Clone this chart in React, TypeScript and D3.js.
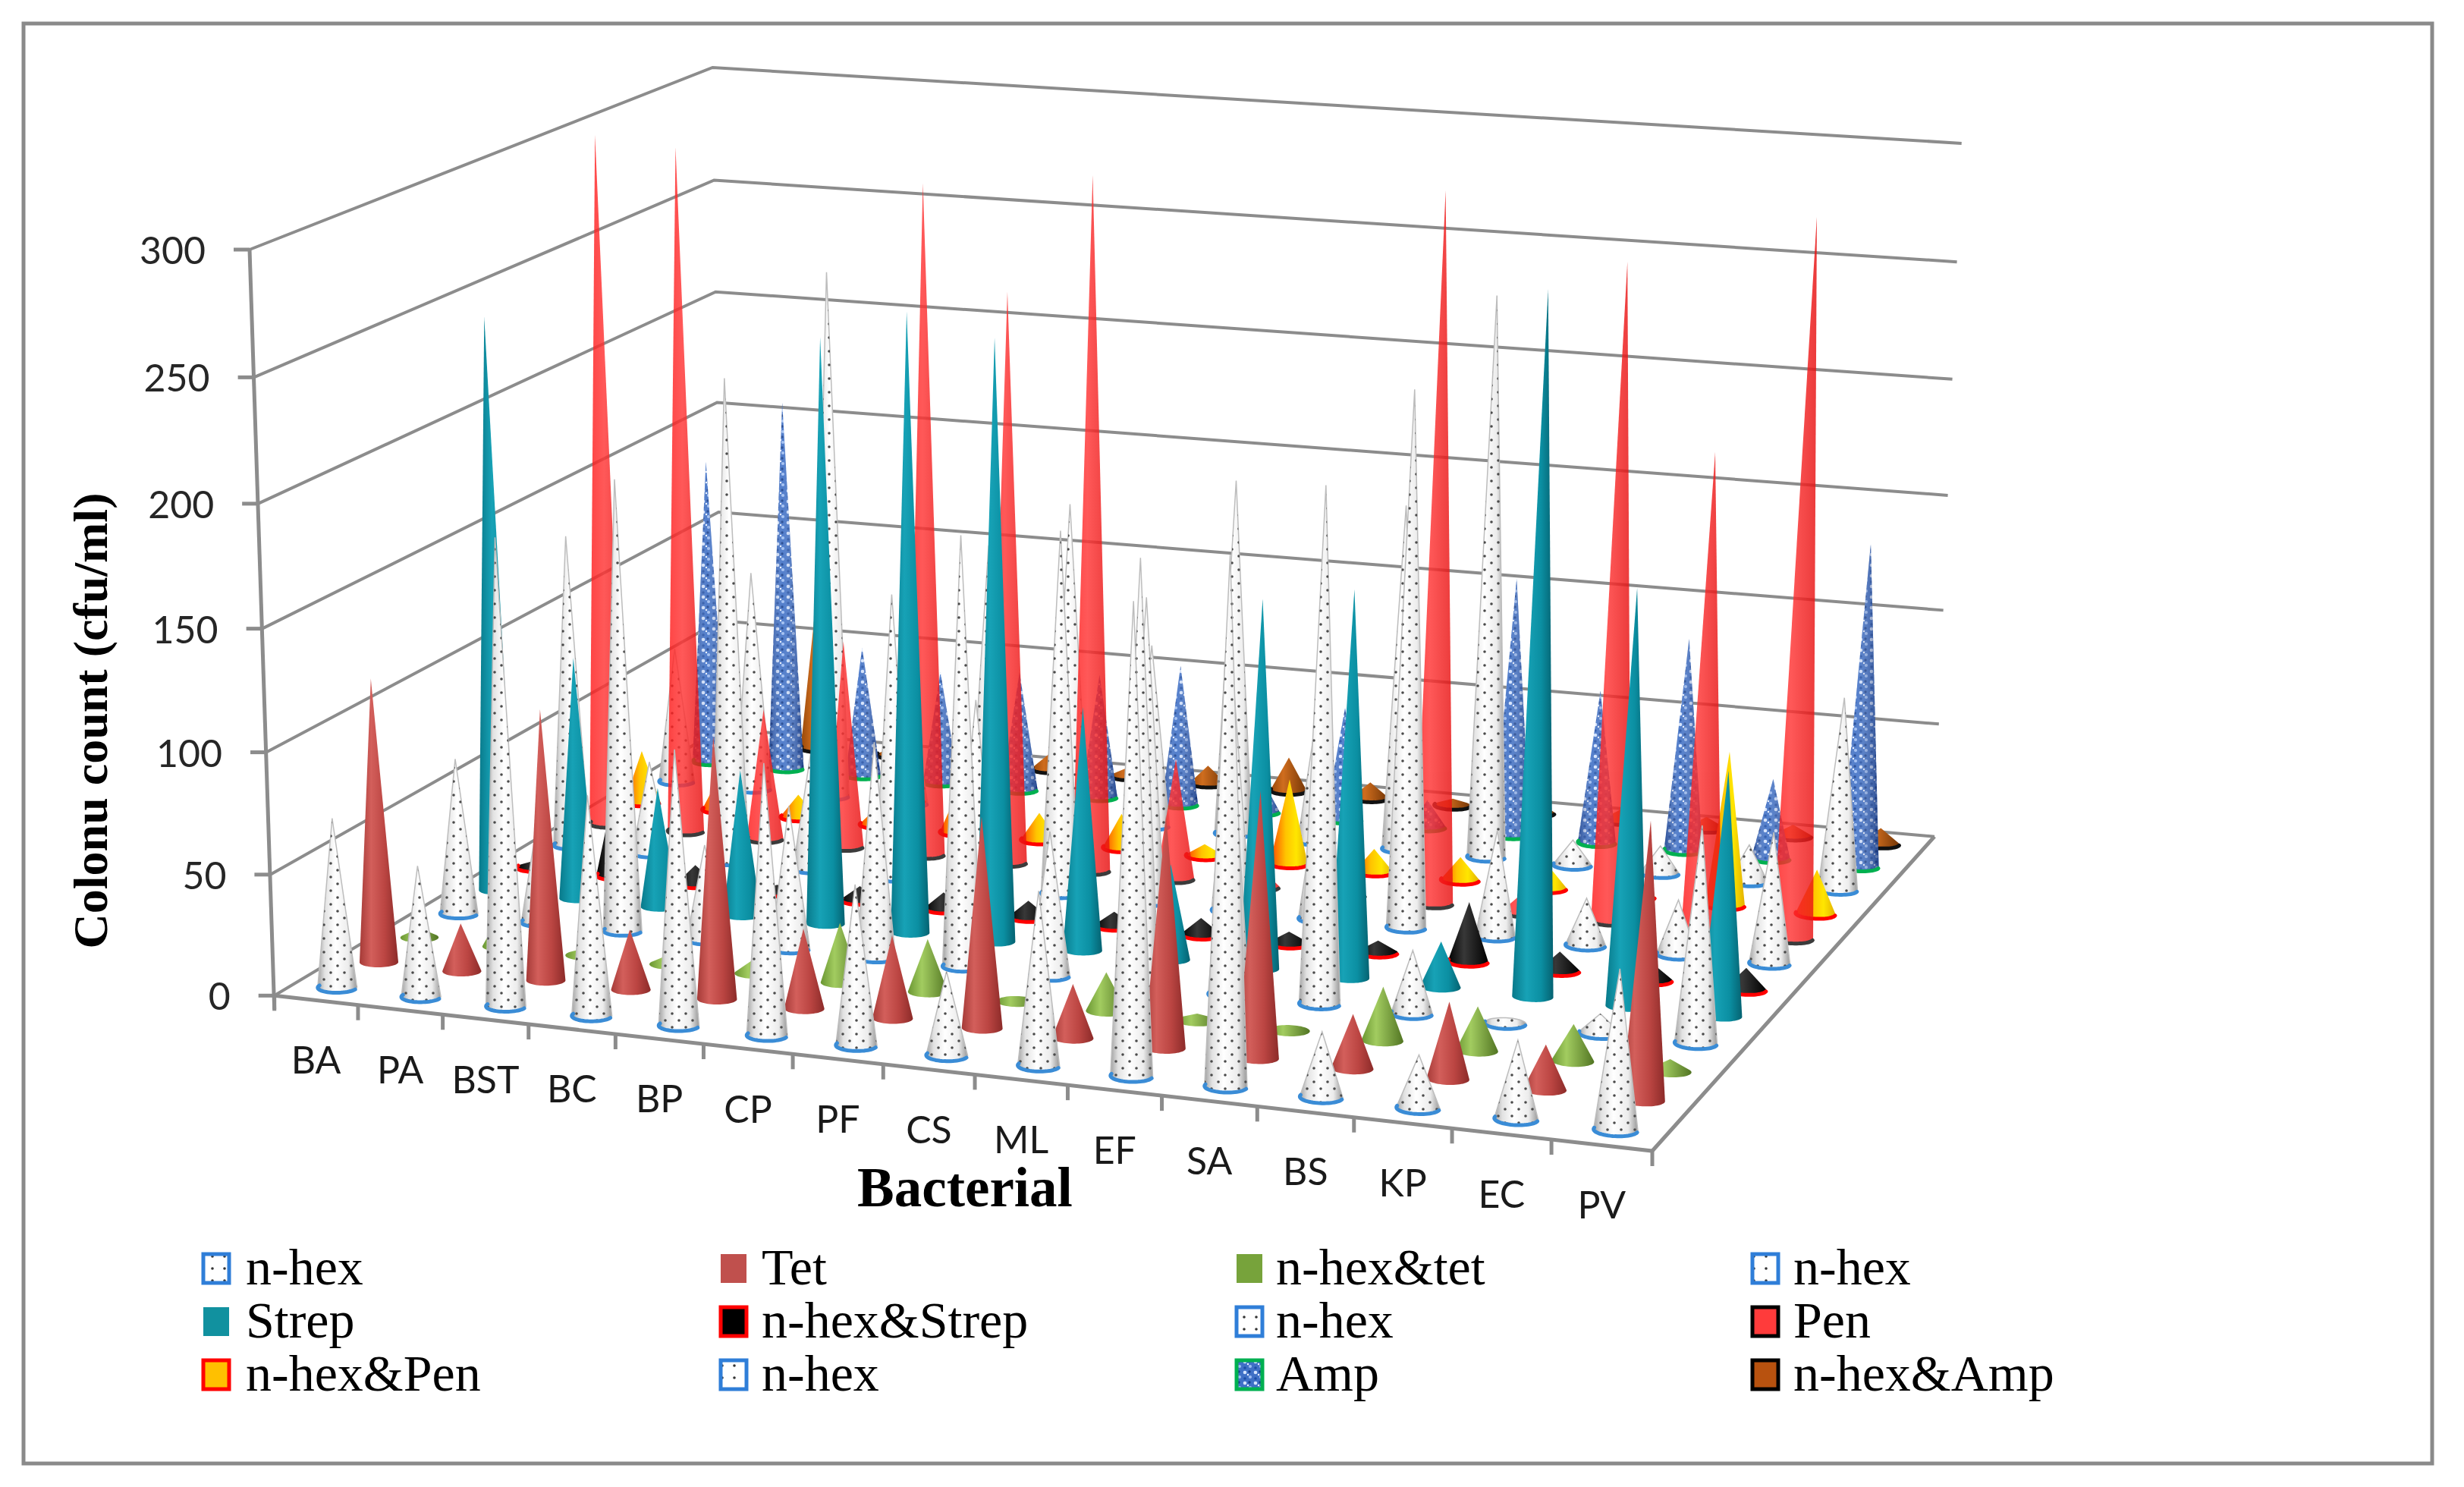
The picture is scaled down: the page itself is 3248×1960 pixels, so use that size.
import React, { useMemo } from "react";
import * as d3 from "d3";

// ---------------- DATA ----------------
const categories = ["BA", "PA", "BST", "BC", "BP", "CP", "PF", "CS", "ML", "EF", "SA", "BS", "KP", "EC", "PV"];
const seriesNames = ["n-hex", "Tet", "n-hex&tet", "n-hex", "Strep", "n-hex&Strep", "n-hex", "Pen", "n-hex&Pen", "n-hex", "Amp", "n-hex&Amp"];
const nHex1 = [70, 54, 190, 90, 112, 110, 65, 34, 70, 187, 208, 26, 21, 31, 63];
const tet = [118, 20, 112, 25, 108, 33, 34, 86, 22, 94, 107, 22, 31, 18, 110];
const nHexTet = [4, 14, 3, 4, 6, 25, 22, 2, 16, 3, 2, 22, 18, 15, 5];
const nHex2 = [66, 45, 189, 40, 60, 90, 178, 60, 175, 120, 210, 26, 1, 8, 88];
const strep = [243, 103, 51, 62, 245, 258, 250, 102, 40, 153, 160, 19, 285, 170, 100];
const nHexStrep = [3, 36, 8, 3, 6, 7, 7, 6, 7, 5, 5, 25, 8, 7, 9];
const nHex3 = [135, 40, 208, 50, 122, 80, 155, 130, 100, 60, 225, 45, 20, 23, 55];
const pen = [299, 296, 57, 90, 288, 245, 296, 52, 8, 5, 299, 8, 275, 200, 298];
const nHexPen = [23, 15, 10, 8, 18, 12, 15, 5, 37, 10, 10, 10, 5, 66, 19];
const nHex4 = [60, 97, 232, 50, 118, 139, 80, 155, 60, 150, 242, 11, 12, 16, 83];
const amp = [136, 165, 58, 50, 53, 55, 62, 15, 50, 12, 113, 67, 93, 35, 140];
const nHexAmp = [5, 70, 4, 4, 7, 4, 8, 15, 7, 3, 5, 5, 5, 5, 7];
const seriesValues = [nHex1, tet, nHexTet, nHex2, strep, nHexStrep, nHex3, pen, nHexPen, nHex4, amp, nHexAmp];
const yTicks = [0, 50, 100, 150, 200, 250, 300];

// ---------------- LAYOUT (screen geometry of the 3D box) ----------------
const W = 3248, H = 1960;
const FL: [number, number] = [361.7, 1312.3];
const FR: [number, number] = [2178, 1517];
const BR: [number, number] = [2550, 1102.7];
const BL: [number, number] = [951, 960];
const TFL: [number, number] = [329, 329];
const TBL: [number, number] = [939.3, 89];
const TBR: [number, number] = [2585.7, 188.9];
const RU = 0.0143, RV = 0.016;

type Style = { fill: string; overlay?: string; rim?: string; opacity?: number; stroke?: string };
const styles: Style[] = [
  { fill: "url(#gWhite)", overlay: "url(#dots)", rim: "#3a8cd6", stroke: "#bdbdbd" },
  { fill: "url(#gTet)" },
  { fill: "url(#gGreen)" },
  { fill: "url(#gWhite)", overlay: "url(#dots)", rim: "#3a8cd6", stroke: "#bdbdbd" },
  { fill: "url(#gTeal)" },
  { fill: "url(#gBlack)", rim: "#ff0000" },
  { fill: "url(#gWhite)", overlay: "url(#dots)", rim: "#3a8cd6", stroke: "#bdbdbd" },
  { fill: "url(#gRed)", rim: "#111111", opacity: 0.82 },
  { fill: "url(#gYellow)", rim: "#ff0000" },
  { fill: "url(#gWhite)", overlay: "url(#dots)", rim: "#3a8cd6", stroke: "#bdbdbd" },
  { fill: "url(#ampTex)", overlay: "url(#gAmpShade)", rim: "#00b050" },
  { fill: "url(#gBrown)", rim: "#111111" },
];
const legendMarks = [
  { fill: "url(#dotsWhite)", stroke: "#2f7ed8" },
  { fill: "#c0504d", stroke: "none" },
  { fill: "#77a33b", stroke: "none" },
  { fill: "url(#dotsWhite)", stroke: "#2f7ed8" },
  { fill: "#11919f", stroke: "none" },
  { fill: "#000000", stroke: "#ff0000" },
  { fill: "url(#dotsWhite)", stroke: "#2f7ed8" },
  { fill: "#ff3b3b", stroke: "#000000" },
  { fill: "#ffc000", stroke: "#ff0000" },
  { fill: "url(#dotsWhite)", stroke: "#2f7ed8" },
  { fill: "url(#ampTex)", stroke: "#00b050" },
  { fill: "#b8520f", stroke: "#000000" },
];

function homography(p0: number[], p1: number[], p2: number[], p3: number[]) {
  const [x0, y0] = p0, [x1, y1] = p1, [x2, y2] = p2, [x3, y3] = p3;
  const dx1 = x1 - x2, dx2 = x3 - x2, dx3 = x0 - x1 + x2 - x3;
  const dy1 = y1 - y2, dy2 = y3 - y2, dy3 = y0 - y1 + y2 - y3;
  const den = dx1 * dy2 - dx2 * dy1;
  const g = (dx3 * dy2 - dx2 * dy3) / den;
  const h = (dx1 * dy3 - dx3 * dy1) / den;
  return { a: x1 - x0 + g * x1, b: x3 - x0 + h * x3, c: x0, d: y1 - y0 + g * y1, e: y3 - y0 + h * y3, f: y0, g, h };
}
function det3(m: number[][]) {
  return m[0][0] * (m[1][1] * m[2][2] - m[1][2] * m[2][1]) - m[0][1] * (m[1][0] * m[2][2] - m[1][2] * m[2][0]) + m[0][2] * (m[1][0] * m[2][1] - m[1][1] * m[2][0]);
}
function solve3(M: number[][], B: number[]) {
  const D = det3(M);
  return [0, 1, 2].map((k) => det3(M.map((row, i) => row.map((val, j) => (j === k ? B[i] : val)))) / D);
}
function buildProjection() {
  const Hm = homography(FL, FR, BR, BL);
  const tops: [number, number, [number, number]][] = [[0, 0, TFL], [0, 1, TBL], [1, 1, TBR]];
  const M = [[0, 0, 0], [0, 0, 0], [0, 0, 0]];
  const B = [0, 0, 0];
  const add = (row: number[], rhs: number) => {
    for (let i = 0; i < 3; i++) { for (let j = 0; j < 3; j++) M[i][j] += row[i] * row[j]; B[i] += row[i] * rhs; }
  };
  for (const [u, v, [sx, sy]] of tops) {
    const X0 = Hm.a * u + Hm.b * v + Hm.c, Y0 = Hm.d * u + Hm.e * v + Hm.f, W0 = Hm.g * u + Hm.h * v + 1;
    add([1, 0, -sx], sx * W0 - X0);
    add([0, 1, -sy], sy * W0 - Y0);
  }
  const [p, q, r] = solve3(M, B);
  const raw = (u: number, v: number, t: number): [number, number, number] => {
    const w = Hm.g * u + Hm.h * v + 1 + r * t;
    return [(Hm.a * u + Hm.b * v + Hm.c + p * t) / w, (Hm.d * u + Hm.e * v + Hm.f + q * t) / w, w];
  };
  // residual correction so the wall tops meet the measured corners
  const res = tops.map(([u, v, [sx, sy]]) => { const pp = raw(u, v, 1); return [sx - pp[0], sy - pp[1]]; });
  const [r00, r01, r11] = res;
  return (u: number, v: number, t: number): [number, number, number] => {
    const pp = raw(u, v, t);
    const cx = r00[0] + u * (r11[0] - r01[0]) + v * (r01[0] - r00[0]);
    const cy = r00[1] + u * (r11[1] - r01[1]) + v * (r01[1] - r00[1]);
    return [pp[0] + t * cx, pp[1] + t * cy, pp[2]];
  };
}

export default function App() {
  const proj = useMemo(buildProjection, []);
  const uScale = d3.scaleBand<string>().domain(categories).range([0, 1]).padding(0);
  const vScale = d3.scaleBand<number>().domain(d3.range(seriesValues.length)).range([0, 1]).padding(0);
  const hScale = d3.scaleLinear().domain([0, 300]).range([0, 1]);
  const line = d3.line();

  const cones = useMemo(() => {
    const out: { s: number; i: number; hull: string; arc: string; depth: number }[] = [];
    seriesValues.forEach((vals, s) => {
      vals.forEach((val, i) => {
        const u0 = (uScale(categories[i]) as number) + uScale.bandwidth() / 2;
        const v0 = (vScale(s) as number) + vScale.bandwidth() / 2;
        const t = hScale(val);
        const base = d3.range(60).map((k) => {
          const a = (k / 60) * Math.PI * 2;
          const pp = proj(u0 + RU * Math.cos(a), v0 + RV * Math.sin(a), 0);
          return [pp[0], pp[1]] as [number, number];
        });
        const ap = proj(u0, v0, t);
        const hull = d3.polygonHull([...base, [ap[0], ap[1]]]) as [number, number][];
        const front = d3.range(31).map((k) => {
          const a = Math.PI + (k / 30) * Math.PI;
          const pp = proj(u0 + RU * Math.cos(a), v0 + RV * Math.sin(a), 0);
          return [pp[0], pp[1]] as [number, number];
        });
        out.push({ s, i, hull: "M" + hull.map((d) => d.join(",")).join("L") + "Z", arc: line(front) || "", depth: proj(u0, v0, 0)[2] });
      });
    });
    out.sort((a, b) => b.depth - a.depth);
    return out;
  }, [proj]);

  const P = (u: number, v: number, val: number) => proj(u, v, hScale(val));
  const grid = "#8c8c8c";
  const serif = "'Liberation Serif', 'Times New Roman', serif";
  const sans = "Lato, 'Open Sans', sans-serif";

  return (
    <svg width={W} height={H} style={{ position: "absolute", left: 0, top: 0, background: "#fff" }} xmlns="http://www.w3.org/2000/svg">
      <defs>
        <linearGradient id="gWhite" x1="0" x2="1" y1="0" y2="0">
          <stop offset="0" stopColor="#a0a0a0" />
          <stop offset="0.18" stopColor="#e2e2e2" />
          <stop offset="0.45" stopColor="#ffffff" />
          <stop offset="0.78" stopColor="#ececec" />
          <stop offset="1" stopColor="#969696" />
        </linearGradient>
        <linearGradient id="gTet" x1="0" x2="1" y1="0" y2="0">
          <stop offset="0" stopColor="#a53a37" />
          <stop offset="0.3" stopColor="#d35f5b" />
          <stop offset="0.65" stopColor="#bb4542" />
          <stop offset="1" stopColor="#8c2b29" />
        </linearGradient>
        <linearGradient id="gGreen" x1="0" x2="1" y1="0" y2="0">
          <stop offset="0" stopColor="#6a9632" />
          <stop offset="0.35" stopColor="#a2cc60" />
          <stop offset="1" stopColor="#527523" />
        </linearGradient>
        <linearGradient id="gTeal" x1="0" x2="1" y1="0" y2="0">
          <stop offset="0" stopColor="#08798a" />
          <stop offset="0.35" stopColor="#17a2b6" />
          <stop offset="0.7" stopColor="#0b8fa2" />
          <stop offset="1" stopColor="#056271" />
        </linearGradient>
        <linearGradient id="gBlack" x1="0" x2="1" y1="0" y2="0">
          <stop offset="0" stopColor="#000" />
          <stop offset="0.4" stopColor="#383838" />
          <stop offset="1" stopColor="#000" />
        </linearGradient>
        <linearGradient id="gRed" x1="0" x2="1" y1="0" y2="0">
          <stop offset="0" stopColor="#ff1a1a" />
          <stop offset="0.4" stopColor="#ff3434" />
          <stop offset="1" stopColor="#e60f0f" />
        </linearGradient>
        <linearGradient id="gYellow" x1="0" x2="1" y1="0" y2="0">
          <stop offset="0" stopColor="#ff3c00" />
          <stop offset="0.42" stopColor="#ffc400" />
          <stop offset="0.7" stopColor="#ffe600" />
          <stop offset="1" stopColor="#e2b000" />
        </linearGradient>
        <linearGradient id="gBrown" x1="0" x2="1" y1="0" y2="0">
          <stop offset="0" stopColor="#964708" />
          <stop offset="0.35" stopColor="#cf6d1e" />
          <stop offset="1" stopColor="#733505" />
        </linearGradient>
        <linearGradient id="gAmpShade" x1="0" x2="1" y1="0" y2="0">
          <stop offset="0" stopColor="#0a1f5a" stopOpacity="0.5" />
          <stop offset="0.4" stopColor="#ffffff" stopOpacity="0.1" />
          <stop offset="1" stopColor="#0a1f5a" stopOpacity="0.55" />
        </linearGradient>
        <pattern id="dots" patternUnits="userSpaceOnUse" width="18" height="18">
          <circle cx="4" cy="4" r="1.8" fill="#4a4a4a" />
          <circle cx="13" cy="13" r="1.8" fill="#4a4a4a" />
        </pattern>
        <pattern id="dotsWhite" patternUnits="userSpaceOnUse" width="16" height="16">
          <rect width="16" height="16" fill="#ffffff" />
          <circle cx="8" cy="8" r="1.8" fill="#333" />
        </pattern>
        <pattern id="ampTex" patternUnits="userSpaceOnUse" width="14" height="14">
          <rect width="14" height="14" fill="#3f70c6" />
          <circle cx="3" cy="3" r="2.3" fill="#d4e4ff" />
          <circle cx="10" cy="9" r="2.1" fill="#9dbdf2" />
          <circle cx="9" cy="2" r="1.7" fill="#173f8c" />
          <circle cx="3" cy="11" r="1.8" fill="#1d4ca4" />
          <circle cx="7" cy="6" r="1.2" fill="#eef4ff" />
        </pattern>
      </defs>
      <rect x={0} y={0} width={W} height={H} fill="#fff" />
      <rect x={31} y={31} width={3175} height={1898} fill="none" stroke="#8a8a8a" strokeWidth={5} />

      {/* walls gridlines */}
      {yTicks.map((tk) => {
        const a = P(0, 0, tk), b = P(0, 1, tk), c = P(1, 1, tk);
        return <path key={"g" + tk} d={`M${a[0]},${a[1]}L${b[0]},${b[1]}L${c[0]},${c[1]}`} fill="none" stroke={grid} strokeWidth={4} />;
      })}
      {/* y axis */}
      {(() => {
        const a = P(0, 0, 0), b = P(0, 0, 300);
        return <line x1={a[0]} y1={a[1] + 18} x2={b[0]} y2={b[1]} stroke={grid} strokeWidth={5} />;
      })()}
      {yTicks.map((tk) => {
        const a = P(0, 0, tk);
        return (
          <g key={"yt" + tk}>
            <line x1={a[0] - 21} y1={a[1]} x2={a[0]} y2={a[1]} stroke={grid} strokeWidth={5} />
            <text x={a[0] - 58} y={a[1]} textAnchor="end" dominantBaseline="central" fontFamily={sans} fontSize={50} fill="#262626">{tk}</text>
          </g>
        );
      })}
      {/* floor front and right edges */}
      {(() => {
        const a = P(0, 0, 0), b = P(1, 0, 0), c = P(1, 1, 0);
        return <path d={`M${a[0]},${a[1]}L${b[0]},${b[1]}L${c[0]},${c[1]}`} fill="none" stroke={grid} strokeWidth={5} />;
      })()}
      {d3.range(categories.length + 1).map((k) => {
        const a = proj(k / categories.length, 0, 0);
        return <line key={"ct" + k} x1={a[0]} y1={a[1]} x2={a[0]} y2={a[1] + 20} stroke={grid} strokeWidth={5} />;
      })}

      {/* cones */}
      {cones.map((c) => {
        const st = styles[c.s];
        return (
          <g key={c.s + "-" + c.i} opacity={st.opacity ?? 1}>
            <path d={c.hull} fill={st.fill} stroke={st.stroke ?? "none"} strokeWidth={1.5} />
            {st.overlay && <path d={c.hull} fill={st.overlay} />}
            {st.rim && <path d={c.arc} fill="none" stroke={st.rim} strokeWidth={5} strokeLinecap="round" />}
          </g>
        );
      })}

      {/* category labels */}
      {categories.map((cat) => {
        const u = (uScale(cat) as number) + uScale.bandwidth() / 2;
        const a = proj(u, 0, 0);
        return (
          <text key={"cl" + cat} x={a[0]} y={a[1] + 78} textAnchor="middle" dominantBaseline="central" fontFamily={sans} fontSize={50} fill="#1a1a1a">{cat}</text>
        );
      })}

      {/* axis titles */}
      <text transform="translate(119,950) rotate(-90)" textAnchor="middle" dominantBaseline="central" fontFamily={serif} fontWeight="bold" fontSize={64} fill="#000">Colonu count (cfu/ml)</text>
      <text x={1272} y={1590} textAnchor="middle" fontFamily={serif} fontWeight="bold" fontSize={73} fill="#000">Bacterial</text>

      {/* legend */}
      {seriesNames.map((name, k) => {
        const col = k % 4, row = Math.floor(k / 4);
        const mx = [268, 950, 1630, 2310][col];
        const tx = [324, 1004, 1682, 2364][col];
        const cy = [1672, 1742, 1812][row];
        const m = legendMarks[k];
        return (
          <g key={"lg" + k}>
            <rect x={mx} y={cy - 19} width={34} height={38} fill={m.fill} stroke={m.stroke} strokeWidth={m.stroke === "none" ? 0 : 5} />
            <text x={tx} y={cy + 21} fontFamily={serif} fontSize={68} fill="#000">{name}</text>
          </g>
        );
      })}
    </svg>
  );
}
